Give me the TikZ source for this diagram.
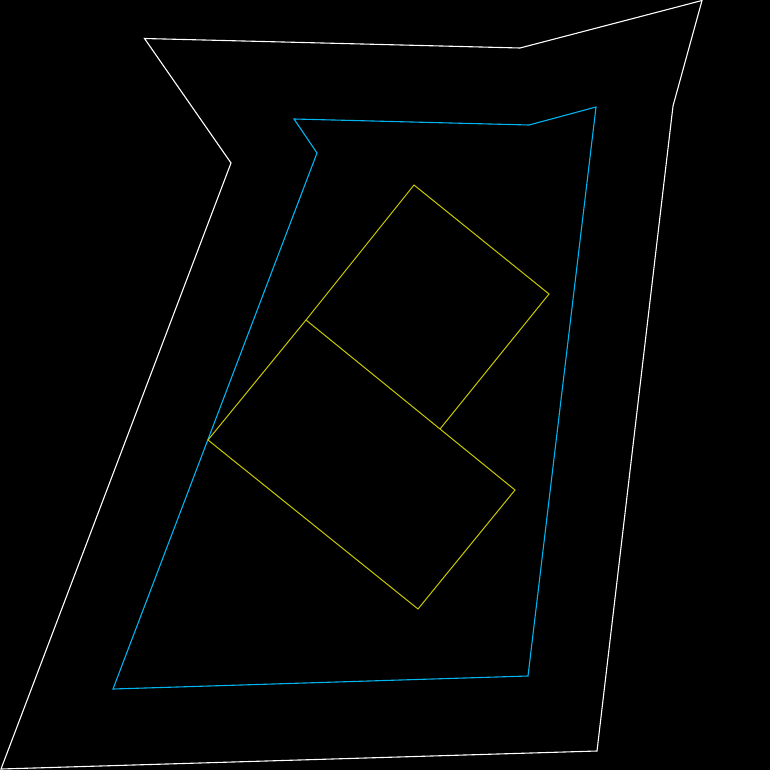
\documentclass[tikz,border=0pt]{standalone}
\begin{document}
\begin{tikzpicture}[x=1pt,y=-1pt,
  outer/.style={draw=white,line width=1.1pt,line join=miter},
  inner/.style={draw={rgb,255:red,0;green,180;blue,240},line width=1.1pt},
  build/.style={draw={rgb,255:red,200;green,200;blue,0},line width=1pt}]
\fill[black] (0,0) rectangle (770,770);
\useasboundingbox (0,0) rectangle (770,770);
\draw[outer] (144.5,38.5) -- (520,48) -- (702,0.5) -- (673,106) -- (597,751) -- (1,769) -- (231,163) -- cycle;
\draw[inner] (294,119) -- (529,125) -- (596,107) -- (528,676) -- (113,689) -- (317,153) -- cycle;
\coordinate (a) at (306,320);
\coordinate (b) at (414,185);
\coordinate (c) at (549,294);
\coordinate (d) at (440,429);
\coordinate (e) at (515,490);
\coordinate (f) at (418,609);
\coordinate (g) at (208,440);
\draw[build] (a) -- (b) -- (c) -- (d);
\draw[build] (a) -- (e) -- (f) -- (g) -- cycle;
\end{tikzpicture}
\end{document}
